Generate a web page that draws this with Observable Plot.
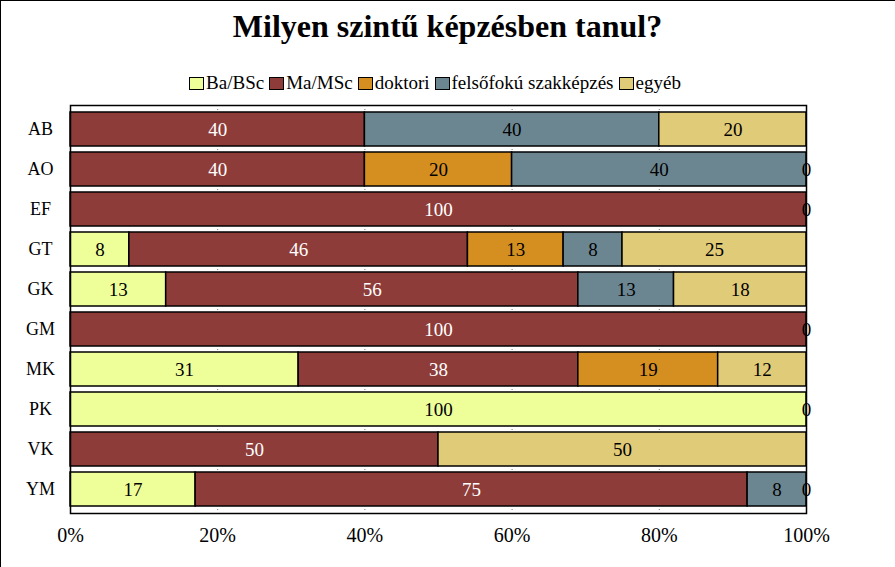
<!DOCTYPE html>
<html>
<head>
<meta charset="utf-8">
<script src="https://cdn.jsdelivr.net/npm/d3@7"></script>
<script src="https://cdn.jsdelivr.net/npm/@observablehq/plot@0.6"></script>
<style>
  html, body { margin: 0; padding: 0; background: #fff; }
  #wrap { position: relative; width: 895px; height: 567px; overflow: hidden; background: #fff; font-family: "Liberation Serif", "Times New Roman", serif; }
  .ln { position: absolute; background: #000; z-index: 5; }
  #title { position: absolute; left: 0; top: 5px; width: 895px; text-align: center; font-weight: bold; font-size: 32px; line-height: 42px; color: #000; }
  #legend { position: absolute; left: 0; top: 73px; width: 875px; display: flex; justify-content: center; align-items: center; font-size: 19px; line-height: 20px; color: #000; }
  .item { display: flex; align-items: center; margin-right: 5px; }
  .sw { width: 13px; height: 11px; border: 1.5px solid #000; margin-right: 2px; }
  #chart { position: absolute; left: 0; top: 96px; }
</style>
</head>
<body>
<div id="wrap">
  <div class="ln" style="left:0;top:0;width:895px;height:1px"></div>
  <div class="ln" style="left:0;top:0;width:1px;height:567px"></div>
  <div id="title">Milyen szintű képzésben tanul?</div>
  <div id="legend"></div>
  <div id="chart"></div>
</div>
<script>
const categories = ["AB","AO","EF","GT","GK","GM","MK","PK","VK","YM"];
const seriesNames = ["Ba/BSc","Ma/MSc","doktori","felsőfokú szakképzés","egyéb"];
const seriesColors = ["#EEFF99","#8E3C39","#D58F21","#6B8691","#E0CB78"];
const baBSc   = [null, null, null, 8, 13, null, 31, 100, null, 17];
const maMSc   = [40, 40, 100, 46, 56, 100, 38, null, 50, 75];
const doktori = [null, 20, null, 13, null, null, 19, null, null, null];
const felso   = [40, 40, null, 8, 13, null, null, null, null, 8];
const egyeb   = [20, 0, 0, 25, 18, 0, 12, 0, 50, 0];
const xTicks = [0, 20, 40, 60, 80, 100];

const seriesValues = [baBSc, maMSc, doktori, felso, egyeb];
const data = [];
seriesNames.forEach((s, si) => {
  categories.forEach((c, ci) => {
    const v = seriesValues[si][ci];
    if (v !== null) data.push({row: c, series: s, value: v});
  });
});

// legend
const leg = document.getElementById("legend");
seriesNames.forEach((s, i) => {
  const it = document.createElement("div");
  it.className = "item";
  const sw = document.createElement("div");
  sw.className = "sw";
  sw.style.background = seriesColors[i];
  const t = document.createElement("span");
  t.textContent = s;
  it.appendChild(sw); it.appendChild(t);
  leg.appendChild(it);
});

const chart = Plot.plot({
  width: 895,
  height: 471,
  marginLeft: 70,
  marginRight: 89,
  marginTop: 9,
  marginBottom: 54,
  style: {fontFamily: "'Liberation Serif', 'Times New Roman', serif", background: "white", color: "black"},
  x: {domain: [0, 100], ticks: xTicks, tickFormat: d => d + "%"},
  y: {domain: categories, paddingInner: 0.14, paddingOuter: 0.07},
  color: {domain: seriesNames, range: seriesColors},
  marks: [
    Plot.gridX(xTicks.slice(1, -1), {stroke: "#777", strokeOpacity: 1, strokeDasharray: "1,3"}),
    Plot.barX(data, {x: "value", y: "row", fill: "series", stroke: "black", strokeWidth: 1.5}),
    Plot.text(data, Plot.stackX({x: "value", y: "row", z: "series", text: d => String(d.value),
      fill: d => d.series === "Ma/MSc" ? "white" : "black", fontSize: 19})),
    Plot.frame({stroke: "black", strokeWidth: 1.5}),
    Plot.axisX({ticks: xTicks, tickFormat: d => d + "%", tickSize: 0, tickPadding: 14, fontSize: 20, label: null}),
    Plot.axisY({tickSize: 0, tickPadding: 30, textAnchor: "middle", fontSize: 18, label: null})
  ]
});
document.getElementById("chart").appendChild(chart);
</script>
</body>
</html>
